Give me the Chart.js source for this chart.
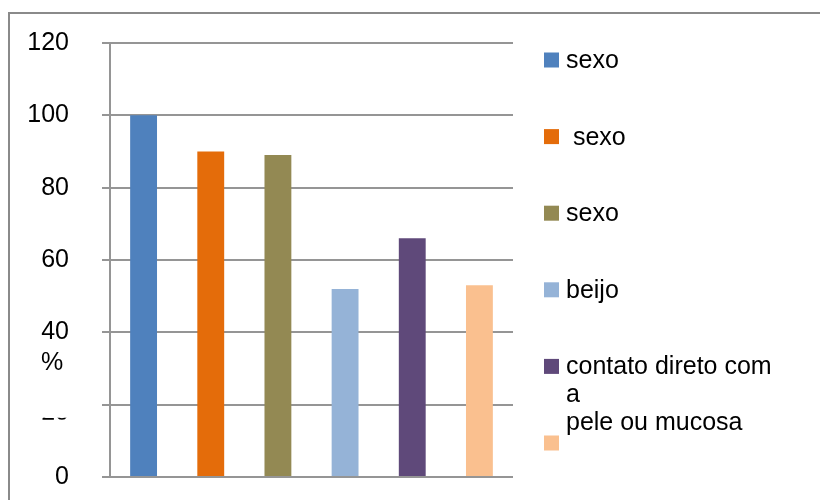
<!DOCTYPE html>
<html>
<head>
<meta charset="utf-8">
<script src="https://cdn.jsdelivr.net/npm/chart.js@4/dist/chart.umd.min.js"></script>
<style>
  html, body { margin: 0; padding: 0; background: #ffffff; }
  canvas { display: block; }
</style>
</head>
<body>
<canvas id="c" width="820" height="500"></canvas>
<script>
// Forms of transmission and the share (%) of answers naming each one
const categories = [
  ['sexo'],
  [' sexo'],
  ['sexo'],
  ['beijo'],
  ['contato direto com', 'a', 'pele ou mucosa'],
  ['não íntegra']
];
const values = [100, 90, 89, 52, 66, 53];
const barColors = ['#4f81bd', '#e46c0a', '#938953', '#95b3d7', '#5f497a', '#fac08f'];
const yTicks = [0, 20, 40, 60, 80, 100, 120];
const axisTitle = '%';

const FONT = '"Liberation Sans", Arial, sans-serif';
const GRID = '#959595';

// Grey frame around the whole chart
const framePlugin = {
  id: 'frame',
  beforeDraw(chart) {
    const ctx = chart.ctx;
    ctx.save();
    ctx.fillStyle = '#ffffff';
    ctx.fillRect(0, 0, chart.width, chart.height);
    ctx.strokeStyle = '#8a8a8a';
    ctx.lineWidth = 2;
    ctx.strokeRect(9, 13, chart.width + 20, chart.height + 20);
    ctx.restore();
  }
};

// Axis title, the half-hidden "20" tick label, and the legend on the right
const extrasPlugin = {
  id: 'extras',
  afterDraw(chart) {
    const ctx = chart.ctx;
    const y = chart.scales.y;
    ctx.save();
    ctx.font = '25px ' + FONT;
    ctx.fillStyle = '#000000';

    // "%" title beside the value axis
    ctx.textAlign = 'center';
    ctx.textBaseline = 'alphabetic';
    ctx.fillText(axisTitle, 52, 370);

    // tick label "20": only a thin sliver of it stays visible
    ctx.save();
    ctx.beginPath();
    ctx.rect(30, y.getPixelForValue(20) + 13, 50, 2);
    ctx.clip();
    ctx.textAlign = 'right';
    ctx.fillText(String(yTicks[1]), 69, y.getPixelForValue(20) + 15);
    ctx.restore();

    // legend: one swatch per bar, text lines that overrun the box are dropped
    const meta = chart.getDatasetMeta(0);
    const labels = chart.data.labels;
    const colors = chart.data.datasets[0].backgroundColor;
    const boxBottom = 441;
    ctx.textAlign = 'left';
    for (let i = 0; i < labels.length; i++) {
      if (!meta.data[i]) continue;
      const cy = 60 + i * 76.6;
      ctx.fillStyle = colors[i];
      ctx.fillRect(544, cy - 7.5, 15, 15);
      ctx.fillStyle = '#000000';
      const lines = Array.isArray(labels[i]) ? labels[i] : [labels[i]];
      lines.forEach((ln, k) => {
        const base = cy + 8 + k * 28;
        if (base + 6 <= boxBottom) ctx.fillText(ln, 566, base);
      });
    }
    ctx.restore();
  }
};

new Chart(document.getElementById('c'), {
  type: 'bar',
  data: {
    labels: categories,
    datasets: [{
      data: values,
      backgroundColor: barColors,
      borderWidth: 0,
      categoryPercentage: 1,
      barPercentage: 0.4
    }]
  },
  options: {
    responsive: false,
    animation: false,
    devicePixelRatio: 1,
    layout: { padding: { left: 0, top: 43, right: 307, bottom: 23 } },
    plugins: {
      legend: { display: false },
      tooltip: { enabled: false }
    },
    scales: {
      x: { display: false },
      y: {
        position: 'left',
        min: yTicks[0],
        max: yTicks[yTicks.length - 1],
        afterFit(scale) {
          scale.width = 110;
          scale.paddingTop = 0;
          scale.paddingBottom = 0;
        },
        afterBuildTicks(scale) { scale.ticks = yTicks.map(v => ({ value: v })); },
        ticks: {
          padding: 33,
          color: '#000000',
          font: { family: FONT, size: 25 },
          callback: (v) => (v === 20 ? '' : String(v))
        },
        grid: {
          color: GRID,
          lineWidth: 2,
          tickLength: 8,
          drawTicks: true
        },
        border: { display: true, color: GRID, width: 2 }
      }
    }
  },
  plugins: [framePlugin, extrasPlugin]
});
</script>
</body>
</html>
